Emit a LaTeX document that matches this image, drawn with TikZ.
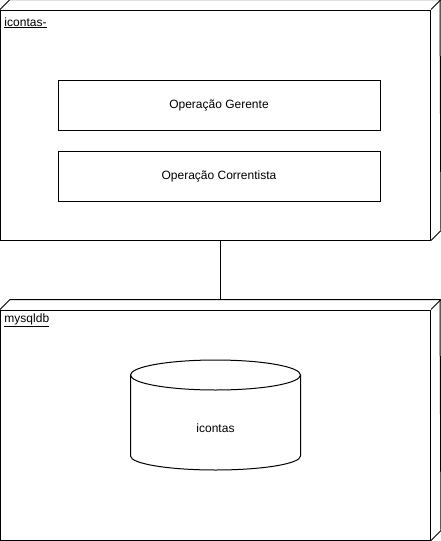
\documentclass[tikz,border=0pt]{standalone}
\usepackage{fontspec}
\setmainfont{Liberation Sans}
\usepackage{tikz}
\usetikzlibrary{calc, positioning}
\definecolor{mainBlack}{gray}{0.0}

\begin{document}
\begin{tikzpicture}[x=1pt, y=-1pt, line width=1pt, mainBlack,
    opbox/.style={draw, minimum width=322pt, minimum height=50pt, font=\fontsize{12pt}{14pt}\selectfont},
    nodebox/.style={draw, fill=white, minimum width=430pt, minimum height=230pt, inner sep=0pt},
    nodelabel/.style={anchor=base west, inner sep=0pt, font=\fontsize{12pt}{14pt}\selectfont}]
    \useasboundingbox (0,0) rectangle (441,541);

    % 上のノード (icontas-)
    \node[nodebox] (app) at (215.5,125) {};
    \draw (app.north west) -- ++(10,-10) -- ++(430,0) -- ($(app.south east)+(10,-10)$) -- (app.south east);
    \draw (app.north east) -- ++(10,-10);
    \node[nodelabel] (appName) at (4,26) {\underline{icontas-}};

    \node[opbox] (opGerente) at (219,105) {Operação Gerente};
    \node[opbox, below=20pt of opGerente] (opCorrentista) {Operação Correntista};

    % 下のノード (mysqldb)
    \node[nodebox] (db) at (215.5,425) {};
    \draw (db.north west) -- ++(10,-10) -- ++(430,0) -- ($(db.south east)+(10,-10)$) -- (db.south east);
    \draw (db.north east) -- ++(10,-10);
    \node[nodelabel] (dbName) at (4,322) {\underline{mysqldb}};

    % 接続線
    \coordinate (appFoot) at ($(app.south)+(5,0)$);
    \coordinate (dbHead) at ($(db.north)+(5,-10)$);
    \draw (appFoot) -- (dbHead);

    % データベース (円柱)
    \coordinate (cylTop) at (215.5,375);
    \coordinate (cylBot) at (215.5,456);
    \draw ($(cylTop)+(-85,0)$) -- ($(cylBot)+(-85,0)$)
        arc[start angle=180, end angle=0, x radius=85, y radius=14]
        -- ($(cylTop)+(85,0)$);
    \draw (cylTop) ellipse[x radius=85, y radius=15];
    \node[font=\fontsize{12pt}{14pt}\selectfont] (dbTable) at (215.5,428) {icontas};
\end{tikzpicture}
\end{document}
